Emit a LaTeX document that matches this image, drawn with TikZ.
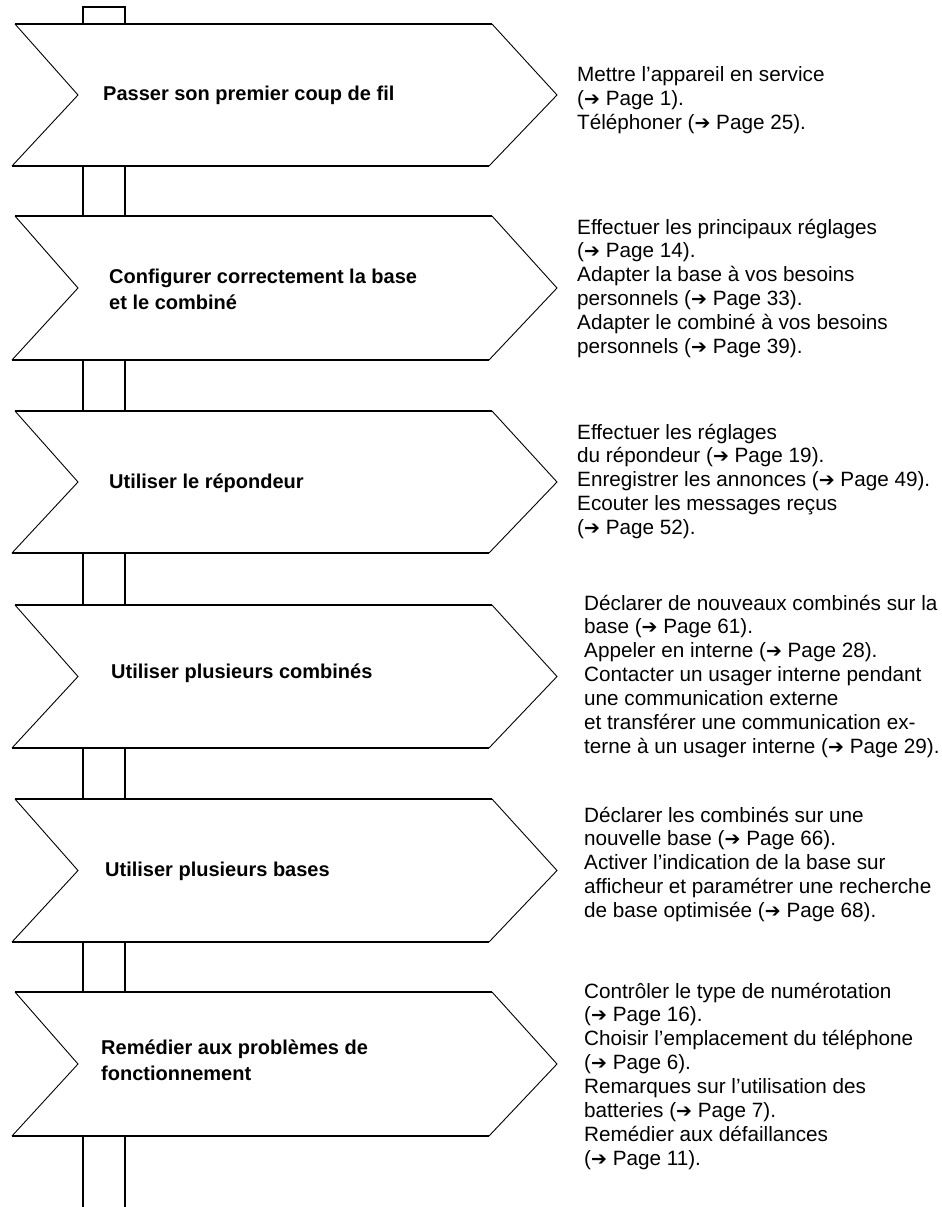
\documentclass[tikz,border=0pt]{standalone}
\usepackage{fontspec}
\setmainfont{Liberation Sans}
\newfontfamily\symfont{DejaVu Sans}
\newcommand\myref[1]{({\symfont\fontsize{19}{19}\selectfont ➔} Page~#1)}
\tikzset{
  hedge/.style={line width=2pt},
  diag/.style={line width=0.9pt},
  postline/.style={line width=2pt},
  lbl/.style={anchor=base west, inner sep=0pt, align=left, font=\fontsize{20}{25.5}\selectfont\bfseries},
  desc/.style={anchor=base west, inner sep=0pt, align=left, font=\fontsize{20.7}{23.9}\selectfont}
}
\begin{document}
\begin{tikzpicture}[x=1pt,y=-1pt]
\useasboundingbox (0,0) rectangle (942,1207);
\fill[white] (0,0) rectangle (942,1207);
% arrows
\foreach \i/\t/\b in {1/24/166, 2/216/360, 3/411/553, 4/605/748, 5/799/942, 6/992/1136}{
  \pgfmathsetmacro\m{(\t+\b)/2}
  \coordinate (q\i l) at (83,\t);
  \coordinate (q\i r) at (125,\t);
  \coordinate (p\i l) at (83,\b);
  \coordinate (p\i r) at (125,\b);
  \draw[diag] (15,\t) -- (78,\m) -- (12,\b);
  \draw[diag] (492,\t) -- (557,\m) -- (489,\b);
  \draw[hedge] (15,\t) -- (492,\t);
  \draw[hedge] (12,\b) -- (489,\b);
}
% posts
\coordinate (s1) at (83,7);
\coordinate (s2) at (125,7);
\coordinate (e1) at (83,1207);
\coordinate (e2) at (125,1207);
\draw[postline] (q1l) -- (s1) -- (s2) -- (q1r);
\foreach \i/\j in {1/2,2/3,3/4,4/5,5/6}{
  \draw[postline] (p\i l) -- (q\j l);
  \draw[postline] (p\i r) -- (q\j r);
}
\draw[postline] (p6l) -- (e1);
\draw[postline] (p6r) -- (e2);
% labels (base anchor = baseline of last line)
\node[lbl] (l1) at (103,100) {Passer son premier coup de fil};
\node[lbl] (l2) at (109,309) {Configurer correctement la base\\et le combiné};
\node[lbl] (l3) at (109,488) {Utiliser le répondeur};
\node[lbl] (l4) at (111,678) {Utiliser plusieurs combinés};
\node[lbl] (l5) at (105,876) {Utiliser plusieurs bases};
\node[lbl] (l6) at (101,1080) {Remédier aux problèmes de\\fonctionnement};
% descriptions
\node[desc] (d1) at (577,129.5) {Mettre l’appareil en service\\\myref{1}.\\Téléphoner \myref{25}.};
\node[desc] (d2) at (577,353.5) {Effectuer les principaux réglages\\\myref{14}.\\Adapter la base à vos besoins\\personnels \myref{33}.\\Adapter le combiné à vos besoins\\personnels \myref{39}.};
\node[desc] (d3) at (577,534.6) {Effectuer les réglages\\du répondeur \myref{19}.\\Enregistrer les annonces \myref{49}.\\Ecouter les messages reçus\\\myref{52}.};
\node[desc] (d4) at (584,753.4) {Déclarer de nouveaux combinés sur la\\base \myref{61}.\\Appeler en interne \myref{28}.\\Contacter un usager interne pendant\\une communication externe\\et transférer une communication ex-\\terne à un usager interne \myref{29}.};
\node[desc] (d5) at (584,917.6) {Déclarer les combinés sur une\\nouvelle base \myref{66}.\\Activer l’indication de la base sur\\afficheur et paramétrer une recherche\\de base optimisée \myref{68}.};
\node[desc] (d6) at (584,1165.3) {Contrôler le type de numérotation\\\myref{16}.\\Choisir l’emplacement du téléphone\\\myref{6}.\\Remarques sur l’utilisation des\\batteries \myref{7}.\\Remédier aux défaillances\\\myref{11}.};
\end{tikzpicture}
\end{document}
